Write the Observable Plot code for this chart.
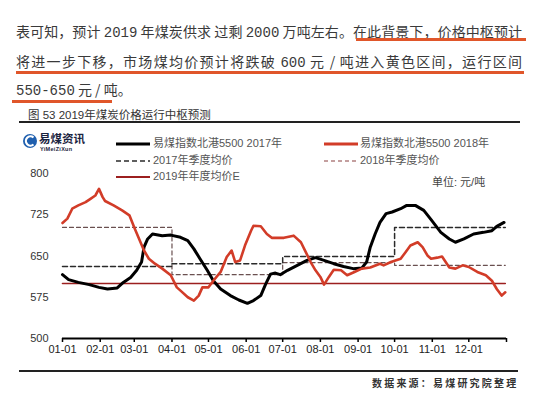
<!DOCTYPE html>
<html><head><meta charset="utf-8">
<script src="https://cdn.jsdelivr.net/npm/d3@7"></script>
<script src="https://cdn.jsdelivr.net/npm/@observablehq/plot@0.6"></script>
<style>
body{margin:0;background:#fff;}
#wrap{position:relative;width:553px;height:399px;overflow:hidden;background:#fff;font-family:"Liberation Sans","Noto Sans CJK SC",sans-serif;}
#chart{position:absolute;left:0;top:0;}
.abs{position:absolute;white-space:nowrap;line-height:1;}
.para{position:absolute;left:16px;width:506px;font-family:"Noto Sans CJK SC",sans-serif;font-size:14px;color:#3a3a3a;line-height:20px;text-align:justify;text-align-last:justify;}
.m{font-family:"Liberation Mono","DejaVu Sans Mono",monospace;}
.ul{position:absolute;height:2.5px;background:#e0562a;}
.rule{position:absolute;height:1.5px;background:#222;}
.leg{position:absolute;font-size:11px;color:#555;white-space:nowrap;line-height:1;}
.sw{position:absolute;}
</style></head>
<body>
<div id="wrap">
<div id="chart"></div>
</div>
<script>
// ---------- data ----------
const dates2017 = ["01-01","01-06","01-14","01-23","01-31","02-07","02-15","02-20","02-26","03-03","03-07","03-09","03-12","03-16","03-24","03-31","04-08","04-14","04-19","04-24","04-30","05-05","05-11","05-19","05-26","06-02","06-07","06-13","06-17","06-21","06-25","06-29","07-05","07-13","07-21","07-28","08-04","08-12","08-20","08-28","09-04","09-08","09-11","09-15","09-19","09-24","09-29","10-06","10-11","10-18","10-25","10-31","11-08","11-15","11-20","11-27","12-05","12-13","12-20","12-24","12-30"];
const values2017 = [616,607,602,598,593,590,592,602,611,624,639,666,681,690,687,688,684,678,663,645,624,605,590,578,570,564,569,578,599,617,619,616,624,633,642,647,642,636,631,627,628,639,666,690,711,727,730,736,742,742,733,716,693,681,675,681,690,693,696,704,711];

const dates2018 = ["01-01","01-05","01-09","01-14","01-20","01-24","01-28","01-31","02-03","02-05","02-12","02-19","02-25","03-01","03-05","03-09","03-13","03-18","03-24","03-31","04-05","04-08","04-14","04-19","04-23","04-26","05-01","05-05","05-11","05-16","05-20","05-23","05-27","05-31","06-05","06-07","06-13","06-18","06-22","07-02","07-10","07-16","07-20","07-24","07-28","08-01","08-04","08-08","08-12","08-18","08-23","08-29","09-04","09-11","09-19","09-22","09-28","10-06","10-10","10-14","10-20","10-24","10-28","10-31","11-05","11-09","11-15","11-20","11-26","12-01","12-08","12-15","12-20","12-24","12-28","12-31"];
const values2018 = [710,718,736,742,748,754,760,772,757,750,742,733,724,702,681,660,645,636,627,615,593,587,575,569,578,593,593,605,621,648,660,639,642,669,696,705,704,690,683,683,687,675,657,639,624,612,598,612,625,624,615,621,627,629,636,633,639,645,657,669,675,666,651,645,647,649,629,627,633,630,621,615,605,590,578,584];

const quarterStarts = ["01-01","04-01","07-01","10-01"];
const quarterEnd = "12-31";
const quarterly2017 = [631,636,649,702];
const quarterly2018 = [702,616,638,633];
const annual2019 = 600;

const yTicks = [500,575,650,725,800];
const monthTicks = ["01-01","02-01","03-01","04-01","05-01","06-01","07-01","08-01","09-01","10-01","11-01","12-01"];

// ---------- helpers ----------
const toDate = s => { const [m,d] = s.split("-").map(Number); return new Date(Date.UTC(2018, m-1, d)); };
const xStart = new Date(Date.UTC(2018,0,1));
const xEnd = new Date(Date.UTC(2019,0,1));

const s2017 = dates2017.map((d,i)=>({date:toDate(d), value:values2017[i]}));
const s2018 = dates2018.map((d,i)=>({date:toDate(d), value:values2018[i]}));
const stepData = vals => quarterStarts.map((d,i)=>({date:toDate(d), value:vals[i]}))
  .concat([{date:toDate(quarterEnd), value:vals[vals.length-1]}]);
const q2017 = stepData(quarterly2017);
const q2018 = stepData(quarterly2018);
const a2019 = [{date:toDate("01-01"), value:annual2019},{date:toDate(quarterEnd), value:annual2019}];
const xTicks = monthTicks.map(toDate).concat([xEnd]);

const fmt = d3.utcFormat("%m-%d");

const chart = Plot.plot({
  width: 553, height: 399,
  marginTop: 173, marginBottom: 61, marginLeft: 62, marginRight: 47,
  style: {background:"transparent", fontFamily:"'Liberation Sans','Noto Sans CJK SC',sans-serif", fontSize:"11px", color:"#222"},
  x: {type:"utc", domain:[xStart, xEnd]},
  y: {domain:[500,800]},
  marks: [
    Plot.axisY({ticks: yTicks, tickSize: 0, tickPadding: 14, label: null, fill:"#333"}),
    Plot.line(q2018, {x:"date", y:"value", curve:"step-after", stroke:"#6a5050", strokeWidth:1.2, strokeDasharray:"4,3"}),
    Plot.line(q2017, {x:"date", y:"value", curve:"step-after", stroke:"#2a2a2a", strokeWidth:1.5, strokeDasharray:"5,3"}),
    Plot.line(a2019, {x:"date", y:"value", stroke:"#9c1f1f", strokeWidth:1.6}),
    Plot.line(s2017, {x:"date", y:"value", stroke:"#000", strokeWidth:3, strokeLinejoin:"round"}),
    Plot.line(s2018, {x:"date", y:"value", stroke:"#d23c28", strokeWidth:2.6, strokeLinejoin:"round"}),
    Plot.ruleY([500], {stroke:"#000", strokeWidth:2}),
    Plot.axisX({ticks: xTicks, tickSize: 4, tickPadding: 3, strokeWidth:1.5, stroke:"#000", fill:"#222", label: null,
      tickFormat: d => d >= xEnd ? "" : fmt(d)})
  ]
});
document.getElementById("chart").appendChild(chart);

// ---------- overlay text ----------
const wrap = document.getElementById("wrap");
wrap.insertAdjacentHTML("beforeend", `
<div class="para" style="top:21px;">表可知，预计 <span class="m">2019</span> 年煤炭供求 过剩 <span class="m">2000</span> 万吨左右。在此背景下，价格中枢预计</div>
<div class="ul" style="left:356px;top:38px;width:170px;"></div>
<div class="para" style="top:51px;">将进一步下移，市场煤均价预计将跌破 <span class="m">600</span> 元 / 吨进入黄色区间，运行区间</div>
<div class="ul" style="left:16px;top:71px;width:508px;"></div>
<div class="para" style="top:79px;text-align:left;text-align-last:left;"><span class="m">550-650</span> 元 / 吨。</div>
<div class="ul" style="left:12px;top:100px;width:100px;"></div>

<div class="abs" style="left:28px;top:110px;font-size:11.5px;color:#333;">图 53 2019年煤炭价格运行中枢预测</div>
<div class="rule" style="left:19px;top:121px;width:501px;"></div>

<svg class="sw" style="left:22px;top:133px;" width="18" height="18" viewBox="0 0 18 18">
  <circle cx="8" cy="8" r="7" fill="#1f5fae"/>
  <path d="M11.5 4.5 A4.6 4.6 0 1 0 11.5 11.5" fill="none" stroke="#fff" stroke-width="2.2"/>
</svg>
<div class="abs" style="left:39px;top:133px;font-size:11.5px;font-weight:bold;color:#1b2440;font-family:'Noto Sans CJK SC';">易煤资讯</div>
<div class="abs" style="left:40px;top:147px;font-size:5.5px;font-weight:bold;color:#1b2440;letter-spacing:0.3px;">YiMeiZiXun</div>

<svg class="sw" style="left:116px;top:142px;" width="36" height="4"><line x1="0" y1="2" x2="34" y2="2" stroke="#000" stroke-width="3"/></svg>
<div class="leg" style="left:153px;top:138px;">易煤指数北港5500 2017年</div>
<svg class="sw" style="left:324px;top:142px;" width="36" height="4"><line x1="0" y1="2" x2="34" y2="2" stroke="#d23c28" stroke-width="3"/></svg>
<div class="leg" style="left:360px;top:138px;">易煤指数北港5500 2018年</div>

<svg class="sw" style="left:116px;top:159px;" width="36" height="4"><line x1="0" y1="2" x2="34" y2="2" stroke="#2a2a2a" stroke-width="1.5" stroke-dasharray="5,3"/></svg>
<div class="leg" style="left:153px;top:155px;">2017年季度均价</div>
<svg class="sw" style="left:324px;top:159px;" width="36" height="4"><line x1="0" y1="2" x2="34" y2="2" stroke="#8a4040" stroke-width="1.2" stroke-dasharray="4,3"/></svg>
<div class="leg" style="left:360px;top:155px;">2018年季度均价</div>

<svg class="sw" style="left:116px;top:175px;" width="36" height="4"><line x1="0" y1="2" x2="34" y2="2" stroke="#9c1f1f" stroke-width="2"/></svg>
<div class="leg" style="left:153px;top:171px;">2019年年度均价E</div>

<div class="leg" style="left:432px;top:177px;color:#444;">单位: 元/吨</div>

<div class="rule" style="left:19px;top:370px;width:499px;"></div>
<div class="abs" style="left:372px;top:378px;font-size:10px;font-weight:bold;color:#333;letter-spacing:2.2px;font-family:'Noto Sans CJK SC';">数据来源：易煤研究院整理</div>
`);
</script>
</body></html>
